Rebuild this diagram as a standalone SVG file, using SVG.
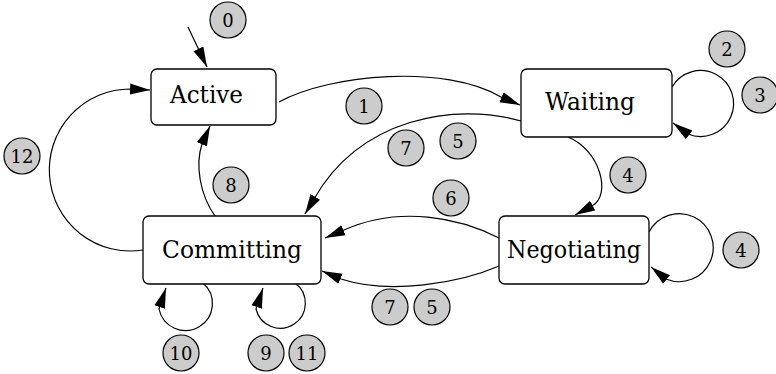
<svg xmlns="http://www.w3.org/2000/svg" width="776" height="374" viewBox="0 0 776 374">
  <style>
    .box { fill: #ffffff; stroke: #000000; stroke-width: 1.3; }
    .name { font-family: "DejaVu Serif", "Liberation Serif", serif; font-size: 24px; fill: #000000; }
    .tag circle { fill: #cccccc; stroke: #000000; stroke-width: 1.2; }
    .tag text { font-family: "DejaVu Serif", "Liberation Serif", serif; font-size: 18px; fill: #000000; text-anchor: middle; }
    .edge { fill: none; stroke: #000000; stroke-width: 1.2; marker-end: url(#arrow); }
  </style>
  <defs>
    <marker id="arrow" markerUnits="userSpaceOnUse" markerWidth="22" markerHeight="14" viewBox="0 -7 22 14" refX="20" refY="0" orient="auto">
      <path d="M0,-5.5 L20,0 L0,5.5 Z" fill="#000000"/>
    </marker>
  </defs>

  <!-- transitions -->
  <g id="edges">
    <path class="edge" d="M188,27 L207,67"/>
    <path class="edge" d="M279,102 C330,74 445,64 501,97 L520,105"/>
    <path class="edge" d="M521,121 C455,102 360,118 314,199 L305,214"/>
    <path class="edge" d="M568,137 C600,150 612,195 592,206 L575,215"/>
    <path class="edge" d="M672,87 A33,33 0 1 1 688,134 L673,123"/>
    <path class="edge" d="M499,238 C460,218 400,205 344,230 L325,238"/>
    <path class="edge" d="M499,266 C460,283 390,295 341,279 L322,271"/>
    <path class="edge" d="M649,232 A34,34 0 1 1 666,279 L651,267"/>
    <path class="edge" d="M215,216 C200,195 195,165 202,144 L210,126"/>
    <path class="edge" d="M143,250 A81,81 0 1 1 130,89 L150,90"/>
    <path class="edge" d="M203,283 A27,27 0 1 1 159,309 L166,288"/>
    <path class="edge" d="M295,283 A25,25 0 1 1 256,309 L263,288"/>
  </g>

  <!-- states -->
  <g id="active">
    <rect class="box" x="151" y="69" width="125" height="56" rx="6"/>
    <text class="name" x="170" y="103" textLength="73" lengthAdjust="spacingAndGlyphs">Active</text>
  </g>
  <g id="waiting">
    <rect class="box" x="521" y="69" width="151" height="68" rx="6"/>
    <text class="name" x="545" y="110" textLength="90" lengthAdjust="spacingAndGlyphs">Waiting</text>
  </g>
  <g id="committing">
    <rect class="box" x="143" y="216" width="178" height="68" rx="6"/>
    <text class="name" x="162" y="258" textLength="140" lengthAdjust="spacingAndGlyphs">Committing</text>
  </g>
  <g id="negotiating">
    <rect class="box" x="499" y="216" width="150" height="68" rx="6"/>
    <text class="name" x="507" y="258" textLength="134" lengthAdjust="spacingAndGlyphs">Negotiating</text>
  </g>

  <!-- transition numbers -->
  <g id="tags" class="tag">
    <g id="tag-0"><circle cx="228" cy="20" r="18"/><text x="228" y="27">0</text></g>
    <g id="tag-1"><circle cx="364" cy="106" r="18"/><text x="364" y="113">1</text></g>
    <g id="tag-2"><circle cx="727" cy="49" r="18"/><text x="727" y="56">2</text></g>
    <g id="tag-3"><circle cx="760" cy="95" r="18"/><text x="760" y="102">3</text></g>
    <g id="tag-7a"><circle cx="406" cy="148" r="18"/><text x="406" y="155">7</text></g>
    <g id="tag-5a"><circle cx="458" cy="141" r="18"/><text x="458" y="148">5</text></g>
    <g id="tag-4a"><circle cx="628" cy="175" r="18"/><text x="628" y="182">4</text></g>
    <g id="tag-6"><circle cx="451" cy="198" r="18"/><text x="451" y="205">6</text></g>
    <g id="tag-7b"><circle cx="390" cy="307" r="18"/><text x="390" y="314">7</text></g>
    <g id="tag-5b"><circle cx="432" cy="307" r="18"/><text x="432" y="314">5</text></g>
    <g id="tag-4b"><circle cx="741" cy="250" r="18"/><text x="741" y="257">4</text></g>
    <g id="tag-8"><circle cx="231" cy="185" r="18"/><text x="231" y="192">8</text></g>
    <g id="tag-12"><circle cx="22" cy="156" r="18"/><text x="22" y="163">12</text></g>
    <g id="tag-10"><circle cx="181" cy="353" r="18"/><text x="181" y="360">10</text></g>
    <g id="tag-9"><circle cx="266" cy="353" r="18"/><text x="266" y="360">9</text></g>
    <g id="tag-11"><circle cx="307" cy="353" r="18"/><text x="307" y="360">11</text></g>
  </g>
</svg>
